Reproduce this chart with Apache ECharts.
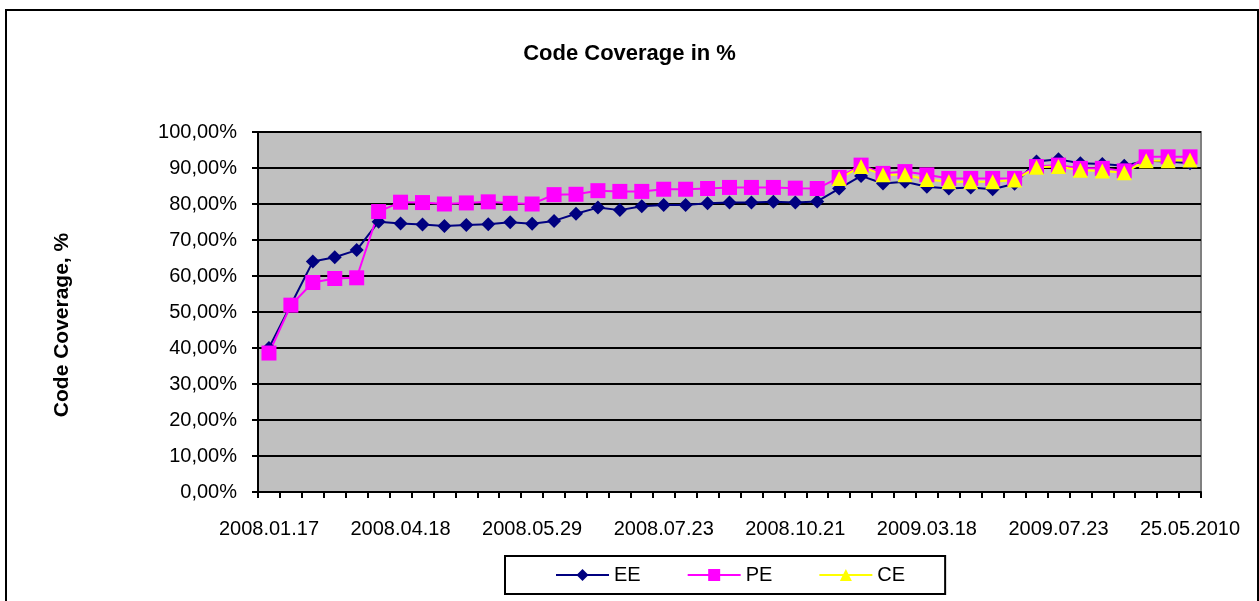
<!DOCTYPE html>
<html>
<head>
<meta charset="utf-8">
<title>Code Coverage in %</title>
<script src="https://cdn.jsdelivr.net/npm/echarts@6/dist/echarts.min.js"></script>
<style>
  html, body { margin: 0; padding: 0; background: #fff; }
  #chart { width: 1259px; height: 601px; }
</style>
</head>
<body>
<div id="chart"></div>
<script>
// Build snapshots, in order; only every 6th one carries a date label on the axis.
const tickLabels = ['2008.01.17', '2008.04.18', '2008.05.29', '2008.07.23',
                    '2008.10.21', '2009.03.18', '2009.07.23', '25.05.2010'];
const labelEvery = 6;
const buildCount = 43;
const builds = Array.from({ length: buildCount }, (_, i) => String(i + 1));

// Coverage per build, in percent
const ee = [40.0, 52.0, 64.0, 65.2, 67.2, 75.1, 74.6, 74.3, 73.9, 74.2,
            74.4, 74.9, 74.5, 75.3, 77.3, 79.0, 78.3, 79.4, 79.7, 79.7,
            80.2, 80.4, 80.4, 80.6, 80.4, 80.7, 84.3, 87.8, 85.7, 86.2,
            84.8, 84.3, 84.6, 84.1, 85.6, 91.8, 92.4, 91.3, 91.1, 90.6,
            92.0, 91.8, 91.3];
const pe = [38.6, 51.9, 58.2, 59.3, 59.5, 77.9, 80.5, 80.4, 80.0, 80.3,
            80.6, 80.2, 80.0, 82.6, 82.7, 83.7, 83.5, 83.5, 84.1, 84.1,
            84.3, 84.6, 84.6, 84.6, 84.4, 84.3, 87.4, 90.8, 88.5, 89.0,
            88.1, 87.1, 87.1, 87.1, 87.1, 90.4, 90.8, 89.9, 89.9, 89.2,
            93.1, 93.1, 93.1];
const ce = [null, null, null, null, null, null, null, null, null, null,
            null, null, null, null, null, null, null, null, null, null,
            null, null, null, null, null, null, 87.1, 90.4, 88.1, 88.1,
            86.8, 86.2, 86.2, 86.2, 86.7, 90.2, 90.4, 89.4, 89.2, 88.7,
            92.0, 92.0, 92.2];

const FONT = 'Arial, "Liberation Sans", sans-serif';

const chart = echarts.init(document.getElementById('chart'), null, { renderer: 'canvas' });

function lineSeries(name, data, symbol, size, color) {
  return {
    name: name,
    type: 'line',
    data: data,
    symbol: symbol,
    symbolSize: size,
    showAllSymbol: true,
    connectNulls: false,
    lineStyle: { color: color, width: 2 },
    itemStyle: { color: color, borderWidth: 0 },
    emphasis: { disabled: true },
    animation: false
  };
}

chart.setOption({
  animation: false,
  backgroundColor: '#ffffff',
  title: {
    text: 'Code Coverage in %',
    left: 'center',
    top: 38,
    textStyle: { fontFamily: FONT, fontSize: 22, fontWeight: 'bold', color: '#000' }
  },
  graphic: [{
    type: 'rect',
    shape: { x: 6, y: 10, width: 1252, height: 610 },
    style: { fill: 'none', stroke: '#000', lineWidth: 2 },
    silent: true,
    z: -1
  }, {
    // vertical axis title
    type: 'text',
    x: 62,
    y: 325,
    rotation: Math.PI / 2,
    style: {
      text: 'Code Coverage, %',
      fontFamily: FONT,
      fontSize: 21,
      fontWeight: 'bold',
      fill: '#000',
      align: 'center',
      verticalAlign: 'middle'
    },
    silent: true
  }],
  legend: {
    data: ['EE', 'PE', 'CE'],
    left: 505,
    top: 556,
    orient: 'horizontal',
    padding: [9, 40, 9, 50],
    borderColor: '#000',
    borderWidth: 2,
    itemWidth: 53,
    itemHeight: 15,
    itemGap: 46,
    textStyle: { fontFamily: FONT, fontSize: 20, color: '#000' }
  },
  grid: {
    left: 258,
    right: 58,
    top: 132,
    bottom: 109,
    show: true,
    backgroundColor: '#c0c0c0',
    borderColor: '#808080',
    borderWidth: 2
  },
  xAxis: {
    type: 'category',
    data: builds,
    boundaryGap: true,
    axisLine: { lineStyle: { color: '#000', width: 2 } },
    axisTick: { show: true, interval: 0, length: 6, lineStyle: { color: '#000', width: 2 } },
    axisLabel: {
      interval: labelEvery - 1,
      margin: 27,
      fontFamily: FONT,
      fontSize: 20,
      color: '#000',
      formatter: (v, i) => (i % labelEvery === 0 ? tickLabels[i / labelEvery] : '')
    },
    splitLine: { show: false }
  },
  yAxis: {
    type: 'value',
    min: 0,
    max: 100,
    interval: 10,
    axisLine: { show: true, lineStyle: { color: '#000', width: 2 } },
    axisTick: { show: true, length: 6, lineStyle: { color: '#000', width: 2 } },
    axisLabel: {
      margin: 21,
      fontFamily: FONT,
      fontSize: 20,
      color: '#000',
      formatter: v => v.toFixed(2).replace('.', ',') + '%'
    },
    splitLine: { show: true, lineStyle: { color: '#000', width: 2 } }
  },
  series: [
    lineSeries('EE', ee, 'diamond', 14, '#000080'),
    lineSeries('PE', pe, 'rect', 15, '#ff00ff'),
    lineSeries('CE', ce, 'triangle', 15, '#ffff00')
  ]
});
</script>
</body>
</html>
